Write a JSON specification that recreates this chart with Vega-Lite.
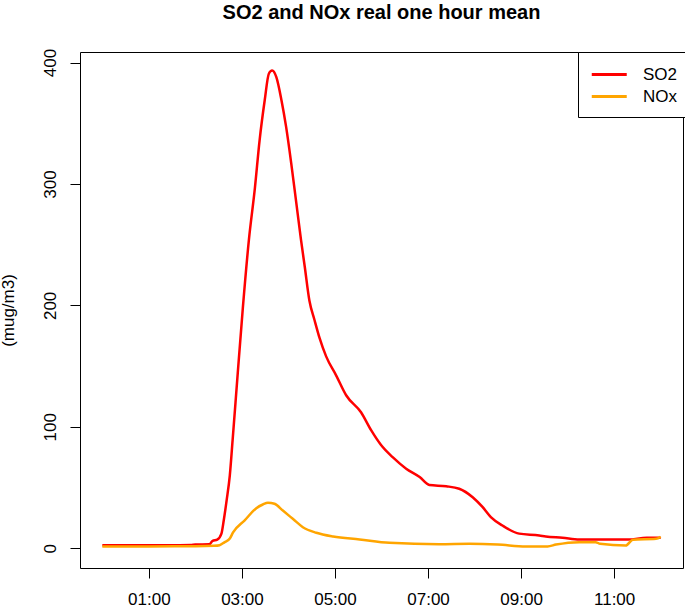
{
  "$schema": "https://vega.github.io/schema/vega-lite/v6.json",
  "autosize": {"type": "none"},
  "padding": {"left": 80, "top": 52, "right": 2, "bottom": 39},
  "width": 603,
  "height": 516,
  "title": {"text": "SO2 and NOx real one hour mean", "fontSize": 20, "fontWeight": "bold", "font": "Liberation Sans", "color": "black", "offset": 25, "anchor": "middle"},
  "config": {
    "view": {"stroke": "black", "strokeWidth": 1},
    "font": "Liberation Sans",
    "axis": {"grid": false, "domain": false, "tickColor": "black", "tickSize": 10, "labelColor": "black", "labelFontSize": 17, "titleColor": "black", "titleFontSize": 17, "titleFontWeight": "normal", "labelFont": "Liberation Sans", "titleFont": "Liberation Sans"}
  },
  "data": {"values": [
    {"t": 0, "v": 2.5, "s": "SO2"},
    {"t": 0.5, "v": 2.5, "s": "SO2"},
    {"t": 1.0, "v": 2.5, "s": "SO2"},
    {"t": 1.5, "v": 2.5, "s": "SO2"},
    {"t": 1.9, "v": 2.6, "s": "SO2"},
    {"t": 2.0, "v": 3, "s": "SO2"},
    {"t": 2.3, "v": 3.2, "s": "SO2"},
    {"t": 2.37, "v": 6, "s": "SO2"},
    {"t": 2.47, "v": 7, "s": "SO2"},
    {"t": 2.56, "v": 12, "s": "SO2"},
    {"t": 2.61, "v": 23, "s": "SO2"},
    {"t": 2.67, "v": 39, "s": "SO2"},
    {"t": 2.74, "v": 60, "s": "SO2"},
    {"t": 2.80, "v": 89, "s": "SO2"},
    {"t": 2.91, "v": 144, "s": "SO2"},
    {"t": 3.02, "v": 198, "s": "SO2"},
    {"t": 3.15, "v": 254, "s": "SO2"},
    {"t": 3.28, "v": 297, "s": "SO2"},
    {"t": 3.38, "v": 336, "s": "SO2"},
    {"t": 3.49, "v": 369, "s": "SO2"},
    {"t": 3.58, "v": 391, "s": "SO2"},
    {"t": 3.65, "v": 393.4, "s": "SO2"},
    {"t": 3.74, "v": 388, "s": "SO2"},
    {"t": 3.85, "v": 369, "s": "SO2"},
    {"t": 3.95, "v": 347, "s": "SO2"},
    {"t": 4.06, "v": 317, "s": "SO2"},
    {"t": 4.17, "v": 284, "s": "SO2"},
    {"t": 4.27, "v": 254, "s": "SO2"},
    {"t": 4.35, "v": 232, "s": "SO2"},
    {"t": 4.45, "v": 204, "s": "SO2"},
    {"t": 4.56, "v": 188, "s": "SO2"},
    {"t": 4.67, "v": 173, "s": "SO2"},
    {"t": 4.81, "v": 158, "s": "SO2"},
    {"t": 5.03, "v": 142, "s": "SO2"},
    {"t": 5.24, "v": 126, "s": "SO2"},
    {"t": 5.56, "v": 112, "s": "SO2"},
    {"t": 5.78, "v": 97, "s": "SO2"},
    {"t": 5.99, "v": 85, "s": "SO2"},
    {"t": 6.24, "v": 75, "s": "SO2"},
    {"t": 6.53, "v": 65.5, "s": "SO2"},
    {"t": 6.82, "v": 58.6, "s": "SO2"},
    {"t": 7.03, "v": 52, "s": "SO2"},
    {"t": 7.39, "v": 51, "s": "SO2"},
    {"t": 7.67, "v": 49, "s": "SO2"},
    {"t": 7.96, "v": 42, "s": "SO2"},
    {"t": 8.17, "v": 34, "s": "SO2"},
    {"t": 8.35, "v": 25.6, "s": "SO2"},
    {"t": 8.60, "v": 18.7, "s": "SO2"},
    {"t": 8.96, "v": 12, "s": "SO2"},
    {"t": 9.39, "v": 10.5, "s": "SO2"},
    {"t": 9.53, "v": 9.6, "s": "SO2"},
    {"t": 9.89, "v": 8.6, "s": "SO2"},
    {"t": 10.25, "v": 7.2, "s": "SO2"},
    {"t": 10.8, "v": 7.2, "s": "SO2"},
    {"t": 11.3, "v": 7.2, "s": "SO2"},
    {"t": 11.7, "v": 8.6, "s": "SO2"},
    {"t": 12.0, "v": 8.6, "s": "SO2"},
    {"t": 0, "v": 1.5, "s": "NOx"},
    {"t": 1, "v": 1.5, "s": "NOx"},
    {"t": 2, "v": 1.6, "s": "NOx"},
    {"t": 2.4, "v": 2, "s": "NOx"},
    {"t": 2.52, "v": 2.5, "s": "NOx"},
    {"t": 2.63, "v": 5, "s": "NOx"},
    {"t": 2.74, "v": 8, "s": "NOx"},
    {"t": 2.81, "v": 13, "s": "NOx"},
    {"t": 3.06, "v": 23, "s": "NOx"},
    {"t": 3.31, "v": 33, "s": "NOx"},
    {"t": 3.45, "v": 36, "s": "NOx"},
    {"t": 3.56, "v": 37.5, "s": "NOx"},
    {"t": 3.70, "v": 36.6, "s": "NOx"},
    {"t": 3.88, "v": 31, "s": "NOx"},
    {"t": 4.10, "v": 24, "s": "NOx"},
    {"t": 4.31, "v": 17.3, "s": "NOx"},
    {"t": 4.60, "v": 12.7, "s": "NOx"},
    {"t": 4.96, "v": 9.6, "s": "NOx"},
    {"t": 5.53, "v": 7.2, "s": "NOx"},
    {"t": 6.17, "v": 4.4, "s": "NOx"},
    {"t": 7.24, "v": 3.3, "s": "NOx"},
    {"t": 7.89, "v": 3.6, "s": "NOx"},
    {"t": 8.5, "v": 3, "s": "NOx"},
    {"t": 9.10, "v": 1.5, "s": "NOx"},
    {"t": 9.57, "v": 1.5, "s": "NOx"},
    {"t": 9.75, "v": 3, "s": "NOx"},
    {"t": 10.25, "v": 5, "s": "NOx"},
    {"t": 10.6, "v": 5, "s": "NOx"},
    {"t": 10.7, "v": 3.6, "s": "NOx"},
    {"t": 11.25, "v": 2.2, "s": "NOx"},
    {"t": 11.4, "v": 7, "s": "NOx"},
    {"t": 11.9, "v": 7.7, "s": "NOx"},
    {"t": 12.0, "v": 9.5, "s": "NOx"}
  ]},
  "mark": {"type": "line", "strokeWidth": 2.5, "interpolate": "monotone", "clip": true},
  "encoding": {
    "x": {"field": "t", "type": "quantitative", "scale": {"domain": [-0.48, 12.48], "nice": false, "zero": false},
      "axis": {"title": null, "values": [1, 3, 5, 7, 9, 11], "labelExpr": "(datum.value < 10 ? '0' : '') + datum.value + ':00'", "labelPadding": 13}},
    "y": {"field": "v", "type": "quantitative", "scale": {"domain": [-16.3, 408.7], "nice": false, "zero": false},
      "axis": {"title": "(mug/m3)", "values": [0, 100, 200, 300, 400], "labelAngle": -90, "labelAlign": "center", "labelBaseline": "bottom", "labelPadding": 11, "titlePadding": 24}},
    "color": {"field": "s", "type": "nominal", "scale": {"domain": ["SO2", "NOx"], "range": ["#FF0000", "#FFA500"]},
      "legend": {"title": null, "orient": "none", "legendX": 498, "legendY": 0, "strokeColor": "black", "fillColor": "white", "padding": 12, "symbolType": "M-1,0H3", "symbolSize": 306, "symbolStrokeWidth": 3, "labelFontSize": 17, "labelColor": "black", "labelOffset": 32, "rowPadding": 3, "cornerRadius": 0}},
    "order": {"field": "t", "type": "quantitative"}
  }
}
